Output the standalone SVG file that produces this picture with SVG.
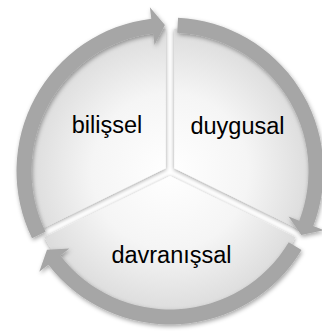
<svg xmlns="http://www.w3.org/2000/svg" width="322" height="331" viewBox="0 0 322 331">
<defs>
<radialGradient id="seg" gradientUnits="userSpaceOnUse" cx="170" cy="171" r="142">
<stop offset="0" stop-color="#ffffff"/>
<stop offset="0.55" stop-color="#f5f5f5"/>
<stop offset="1" stop-color="#dcdcdc"/>
</radialGradient>
<filter id="sh" x="-20%" y="-20%" width="140%" height="140%">
<feGaussianBlur in="SourceAlpha" stdDeviation="2"/>
<feOffset dx="1" dy="2" result="b"/>
<feFlood flood-color="#000" flood-opacity="0.35"/>
<feComposite in2="b" operator="in"/>
<feMerge><feMergeNode/><feMergeNode in="SourceGraphic"/></feMerge>
</filter>
<filter id="shs" x="-20%" y="-20%" width="140%" height="140%">
<feGaussianBlur in="SourceAlpha" stdDeviation="2"/>
<feOffset dx="0" dy="1" result="b"/>
<feFlood flood-color="#000" flood-opacity="0.4"/>
<feComposite in2="b" operator="in"/>
<feMerge><feMergeNode/><feMergeNode in="SourceGraphic"/></feMerge>
</filter>
</defs>
<style>
.seg{fill:url(#seg);filter:url(#shs)}
.arr{fill:#a6a6a6;filter:url(#sh)}
.t{font-family:"Liberation Sans",Arial,sans-serif;font-size:23.5px;fill:#000;text-anchor:middle}
</style>
<rect width="322" height="331" fill="#fff"/>
<g id="node-bilissel">
<path class="seg" d="M165.76 168.35 L40.57 229.42 A142 142 0 0 1 165.76 29.06 Z"/>
</g>
<g id="node-duygusal">
<path class="seg" d="M174.24 168.35 L174.24 29.06 A142 142 0 0 1 299.43 229.42 Z"/>
</g>
<g id="node-davranissal">
<path class="seg" d="M170 176 L295.60 237.25 A142 142 0 0 1 44.40 237.25 Z"/>
</g>
<g id="connectors">
<path class="arr" d="M32.03 238.29 A153.5 153.5 0 0 1 151.29 18.65 L149.89 7.24 L164.90 25.09 L154.52 44.95 L153.12 33.54 A138.5 138.5 0 0 0 45.52 231.72 Z"/>
<path class="arr" d="M178.03 17.70 A153.5 153.5 0 0 1 313.30 226.01 L324.04 230.13 L301.23 235.00 L288.57 216.51 L299.30 220.63 A138.5 138.5 0 0 0 177.25 32.69 Z"/>
<path class="arr" d="M288.72 242.33 A138.5 138.5 0 0 1 60.27 255.50 L69.38 248.48 L46.99 249.67 L39.27 271.67 L48.38 264.65 A153.5 153.5 0 0 0 301.58 250.05 Z"/>
</g>
<text class="t" x="107" y="133">bilişsel</text>
<text class="t" x="237.5" y="134">duygusal</text>
<text class="t" x="171.5" y="263">davranışsal</text>
</svg>
